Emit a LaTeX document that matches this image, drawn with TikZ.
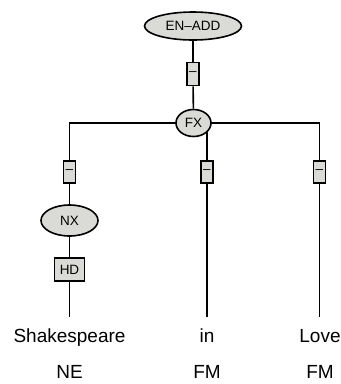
\documentclass[tikz,border=0pt]{standalone}
\usepackage{fontspec}
\setmainfont{Liberation Sans}
\usetikzlibrary{shapes.geometric,backgrounds}
\definecolor{nodefill}{HTML}{DADAD6}
\tikzset{
  lbl/.style={font=\fontsize{13.5}{15}\selectfont, inner sep=0pt},
  cat/.style={lbl, ellipse, draw=black, line width=1.6pt, fill=nodefill},
  fbox/.style={lbl, rectangle, draw=black, line width=1.6pt, fill=nodefill},
  word/.style={font=\fontsize{19}{22}\selectfont, inner sep=0pt, anchor=base},
  edge/.style={line width=1.6pt, draw=black}
}
\begin{document}
\begin{tikzpicture}[x=1pt,y=-1pt]
\useasboundingbox (0,0) rectangle (341,384);
% nodes
\node[cat, minimum width=97pt, minimum height=28pt] (EN) at (193,26) {EN--ADD};
\node[fbox, minimum width=12pt, minimum height=23pt] (b0) at (193,74) {--};
\node[cat, minimum width=35pt, minimum height=27pt] (FX) at (193.5,123) {FX};
\node[fbox, minimum width=12pt, minimum height=22pt] (b1) at (69.5,172) {--};
\node[fbox, minimum width=12pt, minimum height=22pt] (b2) at (207,172) {--};
\node[fbox, minimum width=12pt, minimum height=22pt] (b3) at (319.5,172) {--};
\node[cat, minimum width=57pt, minimum height=31pt] (NX) at (69.5,220.5) {NX};
\node[fbox, minimum width=30pt, minimum height=23pt] (HD) at (69.5,269.5) {HD};
\coordinate (e1) at (69.5,317);
\coordinate (e2) at (207,317);
\coordinate (e3) at (319.5,317);
\node[word] (w1) at (69.5,342) {Shakespeare};
\node[word] (w2) at (207,342) {in};
\node[word] (w3) at (320,342) {Love};
\node[word] (t1) at (69.5,378) {NE};
\node[word] (t2) at (207,378) {FM};
\node[word] (t3) at (320,378) {FM};
% connectors
\begin{scope}[on background layer]
\draw[edge] (EN) -- (b0);
\draw[edge] (b0) -- (FX);
\draw[edge] (FX.center) -| (b1);
\draw[edge] (FX.center) -| (b3);
\draw[edge] (b2) -- (b2 |- FX.center);
\draw[edge] (b1) -- (NX);
\draw[edge] (NX) -- (HD);
\draw[edge] (HD) -- (e1);
\draw[edge] (b2) -- (e2);
\draw[edge] (b3) -- (e3);
\end{scope}
\end{tikzpicture}
\end{document}
